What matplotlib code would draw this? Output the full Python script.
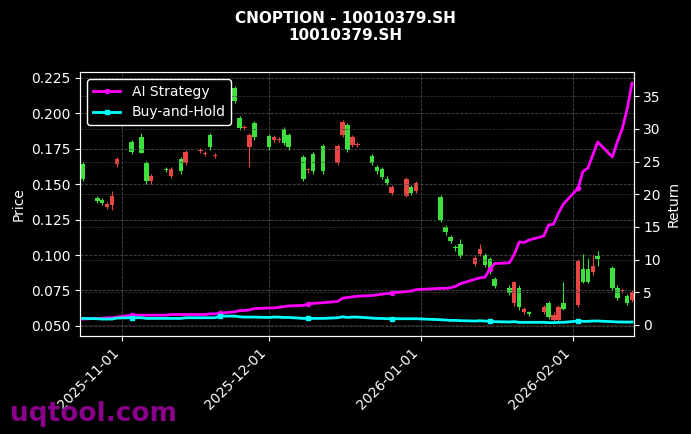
import pandas as pd
import matplotlib
matplotlib.use("Agg")
import matplotlib.pyplot as plt
import matplotlib.dates as mdates

# trading days and OHLC-ish data
dates = [
    "2025-10-24", "2025-10-27", "2025-10-28", "2025-10-29", "2025-10-30", "2025-10-31",
    "2025-11-03", "2025-11-05", "2025-11-06", "2025-11-07", "2025-11-10", "2025-11-11",
    "2025-11-13", "2025-11-14", "2025-11-17", "2025-11-18", "2025-11-19", "2025-11-20",
    "2025-11-21", "2025-11-24", "2025-11-25", "2025-11-26", "2025-11-27", "2025-11-28",
    "2025-12-01", "2025-12-02", "2025-12-03", "2025-12-04", "2025-12-05", "2025-12-08",
    "2025-12-09", "2025-12-10", "2025-12-12", "2025-12-15", "2025-12-16", "2025-12-17",
    "2025-12-18", "2025-12-19", "2025-12-22", "2025-12-23", "2025-12-24", "2025-12-25",
    "2025-12-26", "2025-12-29", "2025-12-30", "2025-12-31",
    "2026-01-05", "2026-01-06", "2026-01-07", "2026-01-08", "2026-01-09", "2026-01-12",
    "2026-01-13", "2026-01-14", "2026-01-15", "2026-01-16", "2026-01-19", "2026-01-20",
    "2026-01-21", "2026-01-22", "2026-01-23", "2026-01-26", "2026-01-27", "2026-01-28",
    "2026-01-29", "2026-01-30",
    "2026-02-02", "2026-02-03", "2026-02-04", "2026-02-05", "2026-02-06", "2026-02-09",
    "2026-02-10", "2026-02-11", "2026-02-12", "2026-02-13",
]
opens = [
    .164, .140, .139, .134, .135, .164,
    .180, .183, .165, .152, .1605, .156, .168, .165, .1735, .1715, .185, .1697,
    .204, .218, .197, .1895, .176, .193,
    .184, .181, .181, .189, .185, .169, .1597, .171, .177, .165, .185, .192,
    .178, .1777, .170, .162, .161, .154, .144, .142, .148, .145,
    .141, .120, .113, .1053, .108, .094, .101, .100, .097, .083,
    .077, .066, .077, .060, .0593, .060, .066, .054, .054, .066,
    .065, .090, .090, .088, .099, .091, .077, .0745, .071, .068,
]
closes = [
    .154, .138, .137, .136, .142, .168,
    .173, .172, .152, .156, .1598, .161, .159, .173, .1742, .1722, .176, .1703,
    .212, .209, .190, .1902, .185, .183,
    .176, .183, .182, .179, .176, .154, .1603, .159, .159, .177, .194, .174,
    .183, .1783, .165, .159, .155, .151, .148, .154, .144, .151,
    .125, .116, .110, .1047, .099, .098, .104, .093, .088, .078,
    .073, .081, .063, .062, .0587, .063, .056, .058, .063, .062,
    .096, .081, .081, .092, .097, .077, .070, .0755, .066, .074,
]
# notable long wicks (date -> (low, high))
wicks = {
    "2025-11-27": (.162, .186), "2025-10-30": (.132, .145), "2025-11-05": (.172, .186),
    "2025-12-29": (.141, .155), "2026-01-13": (.099, .108), "2026-01-30": (.061, .081),
    "2026-02-03": (.080, .101), "2026-02-04": (.080, .098), "2026-02-05": (.086, .100),
    "2026-02-06": (.092, .103), "2026-01-20": (.064, .082), "2026-01-09": (.098, .111),
}
strategy = [
    0.9, 1.0, 1.0, 1.1, 1.1, 1.2,
    1.5, 1.5, 1.5, 1.5, 1.5, 1.6, 1.6, 1.6, 1.6, 1.6, 1.7, 1.7, 1.8, 2.0, 2.2, 2.2, 2.3, 2.5,
    2.6, 2.6, 2.7, 2.8, 2.9, 3.0, 3.2, 3.3, 3.4, 3.6, 4.1, 4.2, 4.3, 4.4, 4.5, 4.6, 4.7, 4.8,
    4.9, 5.1, 5.2, 5.4,
    5.6, 5.6, 5.7, 5.9, 6.3, 7.0, 7.2, 7.3, 8.5, 9.4, 9.5, 10.8, 12.7, 12.6, 13.0, 13.6,
    15.3, 15.4, 17.1, 18.5,
    20.9, 23.5, 24.0, 26.0, 28.0, 25.7, 28.0, 30.0, 33.0, 37.0,
]
buy_hold = [
    1.0, 0.95, 0.9, 0.9, 0.9, 1.05,
    1.1, 1.1, 1.0, 1.0, 1.0, 1.0, 1.0, 1.1, 1.1, 1.1, 1.1, 1.1, 1.35, 1.35, 1.25, 1.2, 1.2, 1.2,
    1.15, 1.2, 1.2, 1.15, 1.15, 1.0, 1.0, 1.0, 1.0, 1.1, 1.25, 1.15, 1.2, 1.2, 1.05, 1.0, 1.0,
    0.95, 0.95, 0.95, 0.95, 0.95,
    0.8, 0.75, 0.7, 0.7, 0.65, 0.6, 0.65, 0.6, 0.55, 0.5, 0.45, 0.5, 0.4, 0.4, 0.4, 0.4,
    0.35, 0.35, 0.4, 0.4,
    0.6, 0.55, 0.55, 0.6, 0.6, 0.5, 0.45, 0.45, 0.43, 0.45,
]

df = pd.DataFrame({"date": pd.to_datetime(dates), "open": opens, "close": closes,
                   "strat": strategy, "bh": buy_hold})

plt.style.use("dark_background")
fig = plt.figure(figsize=(6.91, 4.34), dpi=100)
ax = fig.add_axes([0.116, 0.226, 0.801, 0.608])
ax2 = ax.twinx()

up, down = "#e84545", "#3de03d"
for d, o, c, ds in zip(df["date"], df["open"], df["close"], dates):
    col = up if c >= o else down
    lo, hi = wicks.get(ds, (min(o, c) - 0.0015, max(o, c) + 0.0015))
    ax.vlines(d, lo, hi, color=col, linewidth=0.8)
    ax.bar(d, max(abs(c - o), 0.0008), bottom=min(o, c), width=0.9, color=col)

ax2.plot(df["date"], df["strat"], color="#ff00ff", lw=2, marker="o", ms=3,
         markevery=(6, 12), label="AI Strategy")
ax2.plot(df["date"], df["bh"], color="#00ffff", lw=2, marker="s", ms=3,
         markevery=(6, 12), label="Buy-and-Hold")

ax.set_xlim(pd.Timestamp("2025-10-23 12:00"), pd.Timestamp("2026-02-13 08:00"))
ax.set_ylim(0.0429, 0.2292)
ax2.set_ylim(-1.68, 38.7)
ax.set_yticks([0.05, 0.075, 0.1, 0.125, 0.15, 0.175, 0.2, 0.225])
ax2.set_yticks([0, 5, 10, 15, 20, 25, 30, 35])
ax.xaxis.set_major_locator(mdates.MonthLocator())
ax.xaxis.set_major_formatter(mdates.DateFormatter("%Y-%m-%d"))
for lab in ax.get_xticklabels():
    lab.set_rotation(45)
    lab.set_ha("right")
ax.grid(True, color="#4a4a4a", linestyle="--", linewidth=0.6)
ax2.grid(True, color="#3a3a3a", linestyle="--", linewidth=0.5)
ax.set_ylabel("Price")
ax2.set_ylabel("Return")
ax2.legend(loc="upper left", facecolor="black", edgecolor="white", framealpha=1)

fig.suptitle("CNOPTION - 10010379.SH\n10010379.SH", fontsize=11, fontweight="bold", y=0.975)
fig.text(0.015, 0.03, "uqtool.com", color="#8b008b", fontsize=19, fontweight="bold")

fig.savefig("out.png", dpi=100, facecolor="black")
